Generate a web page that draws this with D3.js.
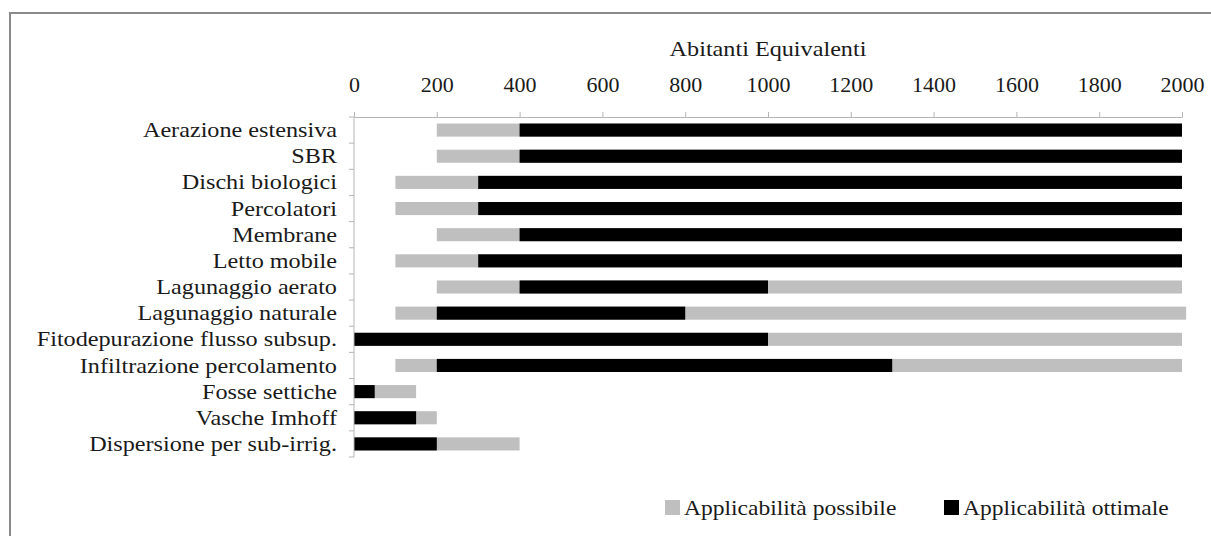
<!DOCTYPE html>
<html>
<head>
<meta charset="utf-8">
<script src="https://cdn.jsdelivr.net/npm/d3@7"></script>
<style>
  body { margin: 0; background: #fff; }
</style>
</head>
<body>
<svg id="chart" width="1211" height="536"></svg>
<script>
// categorie (dall'alto verso il basso)
const categories = [
  "Aerazione estensiva", "SBR", "Dischi biologici", "Percolatori", "Membrane",
  "Letto mobile", "Lagunaggio aerato", "Lagunaggio naturale",
  "Fitodepurazione flusso subsup.", "Infiltrazione percolamento",
  "Fosse settiche", "Vasche Imhoff", "Dispersione per sub-irrig."
];
// intervalli in abitanti equivalenti
const possStart = [200, 200, 100, 100, 200, 100, 200, 100, 0, 100, 0, 0, 0];
const possEnd   = [2000, 2000, 2000, 2000, 2000, 2000, 2000, 2010, 2000, 2000, 150, 200, 400];
const optStart  = [400, 400, 300, 300, 400, 300, 400, 200, 0, 200, 0, 0, 0];
const optEnd    = [2000, 2000, 2000, 2000, 2000, 2000, 1000, 800, 1000, 1300, 50, 150, 200];
const xTicks = [0, 200, 400, 600, 800, 1000, 1200, 1400, 1600, 1800, 2000];
const seriesNames = ["Applicabilità possibile", "Applicabilità ottimale"];
const seriesColors = ["#bfbfbf", "#000000"];

const FONT = "'Liberation Serif', 'Times New Roman', 'DejaVu Serif', serif";
const STRETCH = "scale(1.1,1)"; // il testo originale è un po' allargato
const svg = d3.select("#chart");

// cornice
svg.append("rect")
  .attr("x", 10).attr("y", 13)
  .attr("width", 1300).attr("height", 700)
  .attr("fill", "none")
  .attr("stroke", "#8a8a8a")
  .attr("stroke-width", 2);

const x = d3.scaleLinear().domain([0, 2000]).range([354, 1182]);
const y = d3.scaleBand().domain(categories).range([117, 457])
  .paddingInner(0.5).paddingOuter(0.25);

const rows = categories.map((c, i) => ({
  name: c, ps: possStart[i], pe: possEnd[i], os: optStart[i], oe: optEnd[i]
}));

// barre applicabilità possibile
svg.append("g").selectAll("rect")
  .data(rows)
  .join("rect")
  .attr("x", d => x(d.ps))
  .attr("y", d => y(d.name))
  .attr("width", d => x(d.pe) - x(d.ps))
  .attr("height", y.bandwidth())
  .attr("fill", seriesColors[0]);

// barre applicabilità ottimale
svg.append("g").selectAll("rect")
  .data(rows)
  .join("rect")
  .attr("x", d => x(d.os))
  .attr("y", d => y(d.name))
  .attr("width", d => x(d.oe) - x(d.os))
  .attr("height", y.bandwidth())
  .attr("fill", seriesColors[1]);

// asse x in alto
const xAxis = svg.append("g")
  .attr("transform", `translate(0,${y.range()[0]})`)
  .call(d3.axisTop(x).tickValues(xTicks).tickFormat(d3.format("d"))
    .tickSize(5).tickPadding(20).tickSizeOuter(0));
xAxis.attr("font-family", FONT).attr("font-size", 22);
xAxis.select(".domain").attr("stroke", "#b5b5b5");
xAxis.selectAll(".tick line").attr("stroke", "#b5b5b5");
xAxis.selectAll(".tick text").attr("fill", "#1a1a1a");

const midX = (x.range()[0] + x.range()[1]) / 2;
svg.append("g")
  .attr("transform", `translate(${midX},48)`)
  .append("text")
  .attr("transform", STRETCH)
  .attr("dy", "0.35em")
  .attr("text-anchor", "middle")
  .attr("font-family", FONT)
  .attr("font-size", 22)
  .attr("fill", "#1a1a1a")
  .text("Abitanti Equivalenti");

// asse y
const yAxis = svg.append("g")
  .attr("transform", `translate(${x(0)},0)`)
  .call(d3.axisLeft(y).tickSize(0).tickPadding(15.5).tickSizeOuter(0));
yAxis.attr("font-family", FONT).attr("font-size", 22);
yAxis.select(".domain").remove();
yAxis.selectAll(".tick text")
  .attr("fill", "#1a1a1a")
  .attr("transform", STRETCH);

const step = y.step();
const bounds = categories.map(c => y(c) + y.bandwidth() / 2 - step / 2)
  .concat([y(categories[categories.length - 1]) + y.bandwidth() / 2 + step / 2]);
svg.append("line")
  .attr("x1", x(0)).attr("x2", x(0))
  .attr("y1", bounds[0]).attr("y2", bounds[bounds.length - 1])
  .attr("stroke", "#b5b5b5");
svg.append("g").selectAll("line")
  .data(bounds)
  .join("line")
  .attr("x1", x(0) - 5).attr("x2", x(0))
  .attr("y1", d => d).attr("y2", d => d)
  .attr("stroke", "#b5b5b5");

// legenda
const legendX = [665, 944];
const legend = svg.append("g").selectAll("g")
  .data(seriesNames)
  .join("g")
  .attr("transform", (d, i) => `translate(${legendX[i]},507)`);
legend.append("rect")
  .attr("x", 0).attr("y", -7)
  .attr("width", 15).attr("height", 15)
  .attr("fill", (d, i) => seriesColors[i]);
legend.append("text")
  .attr("transform", "translate(19,0) scale(1.07,1)")
  .attr("dy", "0.35em")
  .attr("font-family", FONT)
  .attr("font-size", 22)
  .attr("fill", "#1a1a1a")
  .text(d => d);
</script>
</body>
</html>
